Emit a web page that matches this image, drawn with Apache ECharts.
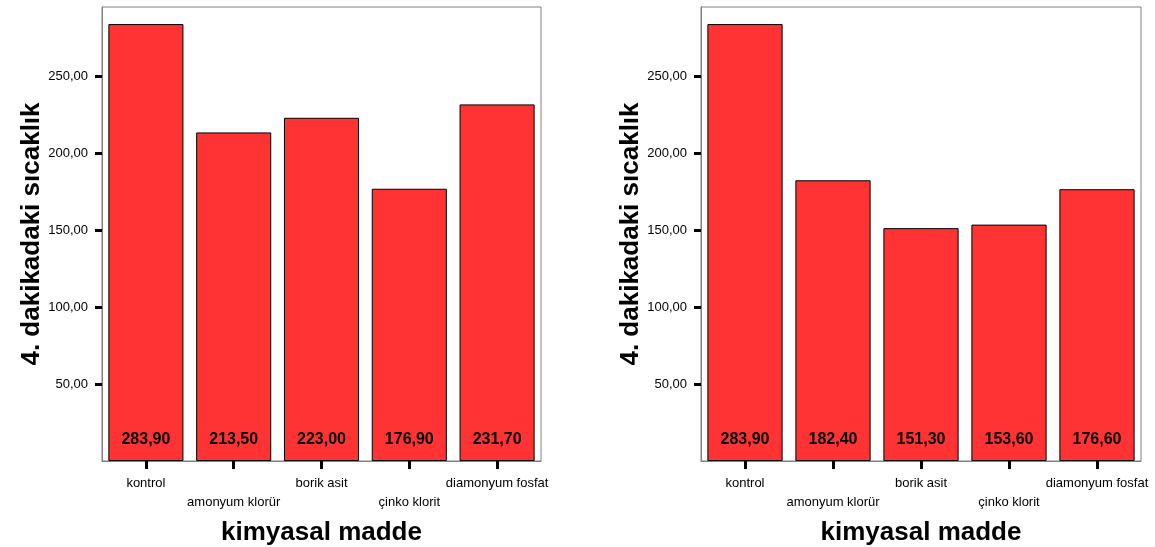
<!DOCTYPE html>
<html>
<head>
<meta charset="utf-8">
<script src="https://cdn.jsdelivr.net/npm/echarts@6/dist/echarts.min.js"></script>
<style>
  html, body { margin: 0; padding: 0; background: #fff; }
  #chart { width: 1155px; height: 547px; }
</style>
</head>
<body>
<div id="chart"></div>
<script>
// Chemical treatments on the category axis
const categories = ['kontrol', 'amonyum klorür', 'borik asit', 'çinko klorit', 'diamonyum fosfat'];
// Temperature at minute 4, two panels
const valuesLeft = [283.90, 213.50, 223.00, 176.90, 231.70];
const valuesRight = [283.90, 182.40, 151.30, 153.60, 176.60];
// Y tick values
const yTicks = [50, 100, 150, 200, 250];
const yTitle = '4. dakikadaki sıcaklık';
const xTitle = 'kimyasal madde';

const FONT = 'Liberation Sans, Arial, sans-serif';
const fmt = v => v.toFixed(2).replace('.', ',');

const grids = [
  { left: 102, top: 7, width: 439, height: 454 },
  { left: 701, top: 7, width: 440, height: 454 }
];

function xAxisFor(i) {
  return {
    type: 'category', gridIndex: i, data: categories,
    axisLine: { show: true, lineStyle: { color: '#808080', width: 1 } },
    axisTick: { show: true, alignWithLabel: true, length: 8, lineStyle: { color: '#000', width: 3 } },
    axisLabel: {
      interval: 0, margin: 13, fontFamily: FONT, fontSize: 13, color: '#000', lineHeight: 19,
      formatter: (v, idx) => (idx % 2 === 1 ? '\n' + v : v)
    },
    name: xTitle, nameLocation: 'middle', nameGap: 59,
    nameTextStyle: { fontFamily: FONT, fontSize: 26, fontWeight: 'bold', color: '#000' }
  };
}
function yAxisFor(i) {
  return {
    type: 'value', gridIndex: i, min: 0, max: 295, interval: 50,
    splitLine: { show: false },
    axisLine: { show: true, lineStyle: { color: '#808080', width: 1 } },
    axisTick: { show: true, length: 7, customValues: yTicks, lineStyle: { color: '#000', width: 3 } },
    axisLabel: { margin: 14, fontFamily: FONT, fontSize: 13, color: '#000', customValues: yTicks, formatter: v => fmt(v) },
    name: yTitle, nameLocation: 'middle', nameGap: 57,
    nameTextStyle: { fontFamily: FONT, fontSize: 26, fontWeight: 'bold', color: '#000' }
  };
}
function barSeries(i, data) {
  return {
    type: 'bar', xAxisIndex: i, yAxisIndex: i, data: data,
    barCategoryGap: '14.5%',
    itemStyle: { color: '#FF3333', borderColor: '#000', borderWidth: 1 },
    label: {
      show: true, position: 'insideBottom', distance: 13,
      fontFamily: FONT, fontSize: 16, fontWeight: 'bold', color: '#000',
      formatter: p => fmt(p.value)
    },
    animation: false
  };
}

const chart = echarts.init(document.getElementById('chart'), null, { renderer: 'canvas' });
chart.setOption({
  animation: false,
  backgroundColor: '#fff',
  grid: grids.map(g => Object.assign({
    show: true, borderColor: '#808080', borderWidth: 1, backgroundColor: 'transparent',
    containLabel: false, outerBoundsMode: 'none'
  }, g)),
  xAxis: [xAxisFor(0), xAxisFor(1)],
  yAxis: [yAxisFor(0), yAxisFor(1)],
  series: [barSeries(0, valuesLeft), barSeries(1, valuesRight)]
});
</script>
</body>
</html>
